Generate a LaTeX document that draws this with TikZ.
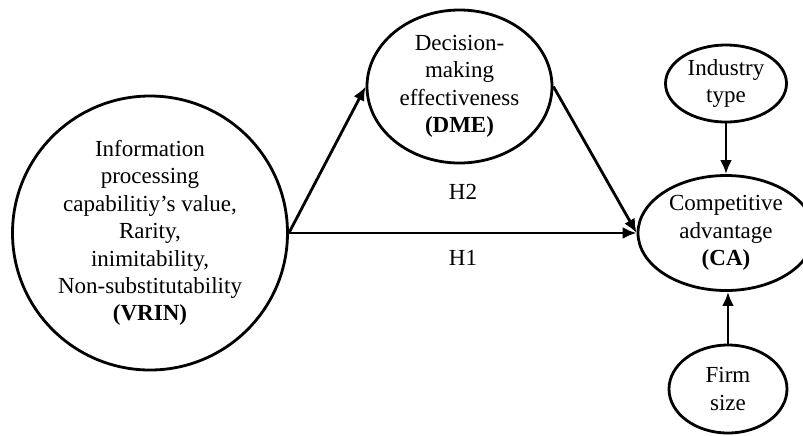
\documentclass[tikz,border=0pt]{standalone}
\usepackage{fontspec}
\setmainfont{Liberation Serif}
\usetikzlibrary{shapes.geometric, arrows.meta}

\begin{document}
\begin{tikzpicture}[x=0.5pt, y=-0.5pt,
    construct/.style={draw, ellipse, line width=1.4pt, inner sep=0pt, align=center,
        font=\fontsize{11.5}{13.7}\selectfont},
    path/.style={line width=1.4pt, -{Latex[length=7pt, width=6pt]}}]
        \useasboundingbox (0,0) rectangle (803,435);
        % Constructs
        \node[construct, minimum width=137.5pt, minimum height=137pt] (vrin) at (150,233)
            {Information\\processing\\capabilitiy’s value,\\Rarity,\\inimitability,\\Non-substitutability\\\textbf{(VRIN)}};
        \node[construct, minimum width=92.5pt, minimum height=76.5pt] (dme) at (459.5,86.5)
            {Decision-\\making\\effectiveness\\\textbf{(DME)}};
        \node[construct, minimum width=88pt, minimum height=57.5pt] (ca) at (726,233)
            {Competitive\\advantage\\\textbf{(CA)}};
        % Controls
        \node[construct, minimum width=60.5pt, minimum height=38.5pt] (industry) at (726,83.5)
            {Industry\\type};
        \node[construct, minimum width=59pt, minimum height=44pt] (firm) at (728,389)
            {Firm\\size};
        % Paths
        \draw[path] (vrin.east) -- (dme.west);
        \draw[path] (dme.east) -- (ca.west);
        \draw[path] (vrin.east) -- (ca.west);
        \draw[path] (industry.south) -- (industry.south |- ca.north);
        \draw[path] (firm.north) -- (firm.north |- ca.south);
        % Hypotheses
        \node[font=\fontsize{11.5}{13.7}\selectfont] (h2) at (463,192) {H2};
        \node[font=\fontsize{11.5}{13.7}\selectfont] (h1) at (463,258) {H1};
    \end{tikzpicture}
\end{document}
